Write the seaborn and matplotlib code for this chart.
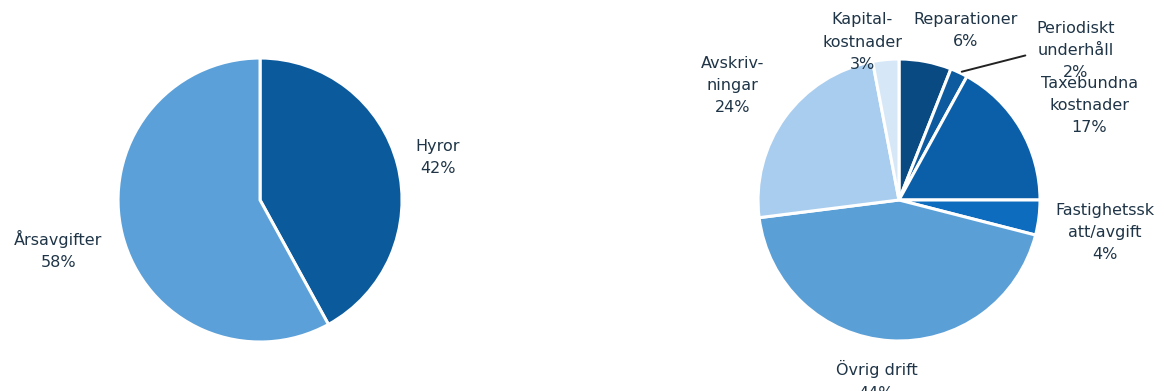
import matplotlib
matplotlib.use("Agg")
import matplotlib.pyplot as plt
import seaborn as sns
import numpy as np

sns.set_theme(style="white")
plt.rcParams['font.family'] = ['DejaVu Sans']

# Left pie data
left_labels = ["Hyror", "Årsavgifter"]
left_values = [42, 58]
left_colors = ["#0b5a9c", "#5ba0d8"]
left_label_pos = [(1.25, 0.30), (-1.42, -0.35)]

# Right pie data
right_labels = ["Reparationer", "Periodiskt\nunderhåll", "Taxebundna\nkostnader",
                "Fastighetssk\natt/avgift", "Övrig drift", "Avskriv-\nningar",
                "Kapital-\nkostnader"]
right_values = [6, 2, 17, 4, 44, 24, 3]
right_colors = ["#0a4a82", "#0d5a9e", "#0b5fa8", "#0e6cbf", "#5b9fd7", "#a9cdee", "#d6e8f7"]
right_label_pos = [(0.475, 1.20), (1.25, 1.06), (1.35, 0.67), (1.46, -0.23),
                   (-0.16, -1.28), (-1.18, 0.81), (-0.26, 1.12)]

text_color = "#1f3547"
fs = 11.5

fig = plt.figure(figsize=(11.64, 3.91), dpi=100)
ax1 = fig.add_axes([0.1014, 0.1253, 0.244, 0.7263])
ax2 = fig.add_axes([0.6512, 0.1279, 0.2423, 0.7212])

def draw(ax, values, colors, labels, pos):
    wedges, _ = ax.pie(values, colors=colors, startangle=90, counterclock=False,
                       radius=1, wedgeprops=dict(edgecolor="white", linewidth=2.2))
    for lab, v, (x, y) in zip(labels, values, pos):
        ax.text(x, y, f"{lab}\n{v}%", ha="center", va="center", fontsize=fs,
                color=text_color, linespacing=1.6)
    ax.set_xlim(-1, 1)
    ax.set_ylim(-1, 1)
    ax.set_aspect("equal")
    ax.axis("off")
    return wedges

draw(ax1, left_values, left_colors, left_labels, left_label_pos)
draw(ax2, right_values, right_colors, right_labels, right_label_pos)

# leader line for the small slice
cum = np.cumsum([0] + right_values)
mid = 90 - (cum[1] + right_values[1] / 2) / 100 * 360
ax2.annotate("", xy=(np.cos(np.radians(mid)), np.sin(np.radians(mid))),
             xytext=(0.915, 1.03), arrowprops=dict(arrowstyle="-", color="#222222", lw=1.4),
             annotation_clip=False)

fig.savefig("out.png", dpi=100, facecolor="white")
